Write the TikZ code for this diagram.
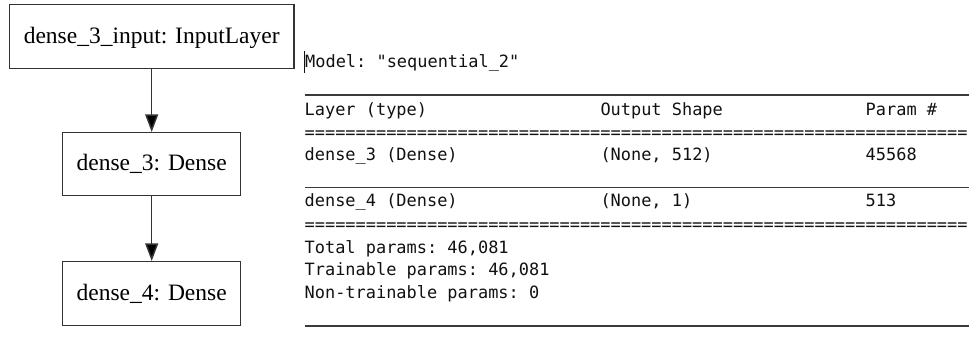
\documentclass[tikz,border=0pt]{standalone}
\usepackage{fontspec}
\setmainfont{Liberation Serif}
\newfontfamily\monof{DejaVu Sans Mono}
\usetikzlibrary{arrows.meta}
\definecolor{boxline}{HTML}{333333}
\definecolor{ruleline}{HTML}{3A3A3A}
\definecolor{monotext}{HTML}{111111}
\tikzset{
  layerbox/.style={draw=boxline, line width=1.5pt, inner sep=0pt, minimum height=64pt,
    text height=13.4pt, text depth=0pt, font=\fontsize{23.5}{28}\selectfont},
  flowarrow/.style={draw=boxline, line width=1.5pt, -{Triangle[length=17.7pt,width=13pt,fill=black]}},
  mono/.style={anchor=base west, inner sep=0pt, text=monotext, font=\monof\frenchspacing\fontsize{16.94}{20}\selectfont},
  rulel/.style={draw=ruleline, line width=1.4pt}
}
\begin{document}
\begin{tikzpicture}[x=1pt,y=-1pt]
\useasboundingbox (0,0) rectangle (975,338);
% left graph
\node[layerbox, minimum width=284.5pt] (b1) at (151.7,36.5) {dense\_3\_input: InputLayer};
\node[layerbox, minimum width=178pt, minimum height=63pt] (b2) at (151.7,164.2) {dense\_3: Dense};
\node[layerbox, minimum width=178pt] (b3) at (151.7,293.7) {dense\_4: Dense};
\draw[flowarrow] (b1) -- (b2);
\draw[flowarrow] (b2) -- (b3);
% summary
\draw[line width=0.9pt, draw=monotext] (304.3,51) -- (304.3,73);
\node[mono] (model) at (305,67.5) {Model: "sequential\_2"};
\draw[rulel] (304.5,95) -- (968.5,95);
\node[mono] (hlayer) at (304.5,115.5) {Layer (type)};
\node[mono] (hshape) at (600.3,115.5) {Output Shape};
\node[mono] (hparam) at (865.5,115.5) {Param \#};
\node[mono] (eq1) at (304.5,138.5) {=================================================================};
\node[mono] (l1name) at (304.5,160) {dense\_3 (Dense)};
\node[mono] (l1shape) at (600.3,160) {(None, 512)};
\node[mono] (l1param) at (865.5,160) {45568};
\draw[rulel] (304.5,187.5) -- (968.5,187.5);
\node[mono] (l2name) at (304.5,206.5) {dense\_4 (Dense)};
\node[mono] (l2shape) at (600.3,206.5) {(None, 1)};
\node[mono] (l2param) at (865.5,206.5) {513};
\node[mono] (eq2) at (304.5,230) {=================================================================};
\node[mono] (total) at (304.5,253) {Total params: 46,081};
\node[mono] (train) at (304.5,275.5) {Trainable params: 46,081};
\node[mono] (nontrain) at (304.5,298) {Non-trainable params: 0};
\draw[rulel] (304.5,326) -- (968.5,326);
\end{tikzpicture}
\end{document}
